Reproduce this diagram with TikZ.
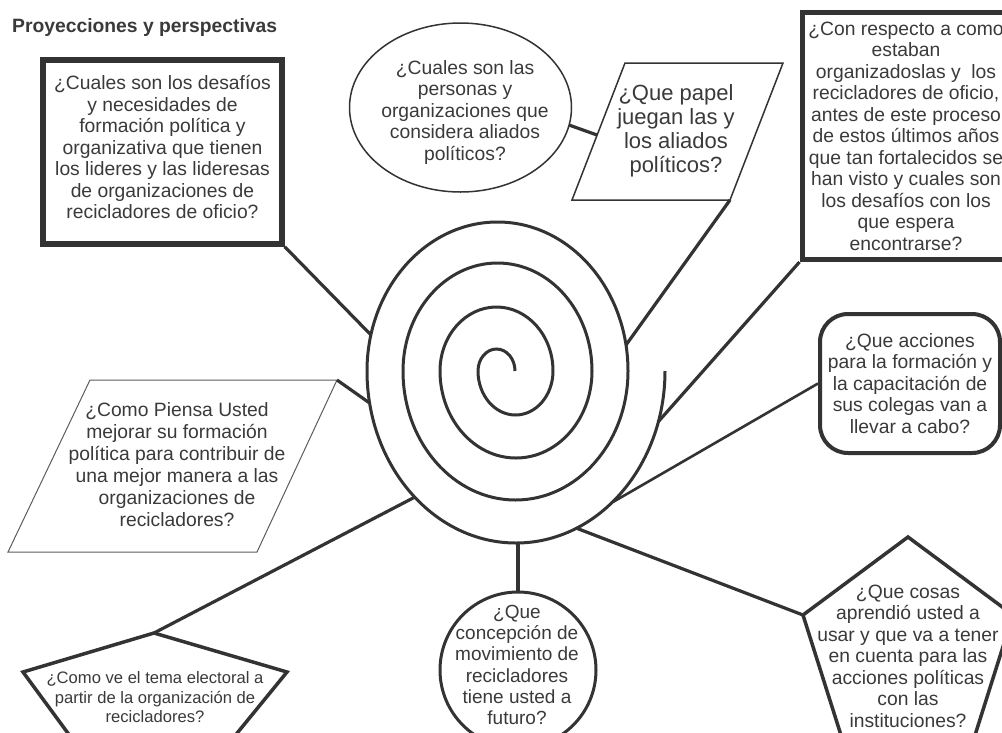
\documentclass[tikz,border=0pt]{standalone}
\usepackage{fontspec}
\setmainfont{Liberation Sans}
\definecolor{ink}{HTML}{333333}
\definecolor{txt}{HTML}{3A3A3A}
\tikzset{
  qtext/.style={inner sep=0pt, align=center, text=txt, font=\fontsize{19.3pt}{21.5pt}\selectfont},
  thickbox/.style={draw=ink, line width=#1},
  conn/.style={draw=ink, line width=3.2pt},
  spiralline/.style={draw=ink, line width=3pt},
  thinshape/.style={draw=ink, line width=1.5pt},
  pentshape/.style={draw=ink, line width=3.5pt, line join=miter},
}
\begin{document}
\begin{tikzpicture}[x=1pt,y=-1pt]
\useasboundingbox (0,0) rectangle (1002,732);
\fill[white] (0,0) rectangle (1002,732);
\clip (0,0) rectangle (1002,732);

% title
\node[anchor=west, inner sep=0pt, text=txt, font=\bfseries\fontsize{19.3pt}{22pt}\selectfont] (title) at (12,28) {Proyecciones y perspectivas};

% spiral
\draw[spiralline] (515,371)
  arc[start angle=0,end angle=180,x radius=18.5pt,y radius=22pt]
  arc[start angle=180,end angle=360,x radius=37.5pt,y radius=44pt]
  arc[start angle=0,end angle=180,x radius=56.5pt,y radius=64pt]
  arc[start angle=180,end angle=360,x radius=76pt,y radius=87pt]
  arc[start angle=0,end angle=180,x radius=94.5pt,y radius=108pt]
  arc[start angle=180,end angle=360,x radius=112.5pt,y radius=129pt]
  arc[start angle=0,end angle=180,x radius=130.5pt,y radius=149pt]
  arc[start angle=180,end angle=360,x radius=149pt,y radius=172pt];
\coordinate (s1) at (371,335);
\coordinate (s3) at (626,345);
\coordinate (s4) at (658,422);
\coordinate (s5) at (613,502);
\coordinate (s6) at (369.6,403);
\coordinate (s7) at (415,497);
\coordinate (s8) at (518,543);
\coordinate (s9) at (576,528);

% q1 box
\node[qtext, thickbox=5.5pt, minimum width=239pt, minimum height=184pt, text depth=10pt] (q1) at (162.5,152)
{¿Cuales son los desafíos\\y necesidades de\\formación política y\\organizativa que tienen\\los lideres y las lideresas\\de organizaciones de\\recicladores de oficio?};

% q2 ellipse
\draw[thinshape] (460.5,107.5) ellipse[x radius=111pt, y radius=84.5pt];
\node[qtext] (q2) at (465,112.5)
{¿Cuales son las\\personas y\\organizaciones que\\considera aliados\\políticos?};
\coordinate (q2r) at (569,125);

% q3 parallelogram
\draw[thinshape] (625,63) -- (783,63) -- (730,200) -- (572,200) -- cycle;
\node[qtext, font=\fontsize{22pt}{24pt}\selectfont] (q3) at (676,131)
{¿Que papel\\juegan las y\\los aliados\\políticos?};
\coordinate (q3l) at (597,135);
\coordinate (q3br) at (730,200);

% q4 box
\node[qtext, thickbox=5pt, minimum width=208pt, minimum height=247pt] (q4) at (906,136)
{¿Con respecto a como\\estaban\\organizadoslas y~ los\\recicladores de oficio,\\antes de este proceso\\de estos últimos años\\que tan fortalecidos se\\han visto y cuales son\\los desafíos con los\\que espera\\encontrarse?};

% q5 rounded box
\node[qtext, thickbox=4pt, rounded corners=28pt, minimum width=180pt, minimum height=139pt] (q5) at (910,383.5)
{¿Que acciones\\para la formación y\\la capacitación de\\sus colegas van a\\llevar a cabo?};

% q6 parallelogram
\draw[draw=ink!80, line width=1pt] (90,380) -- (337,380) -- (257,552) -- (8,552) -- cycle;
\node[qtext, font=\fontsize{19.3pt}{22pt}\selectfont] (q6) at (177,465)
{¿Como Piensa Usted\\mejorar su formación\\política para contribuir de\\una mejor manera a las\\organizaciones de\\recicladores?};
\coordinate (q6tr) at (337,380);

% q7 pentagon
\draw[pentshape] (154,633) -- (287,672) -- (207,770) -- (95,770) -- (23,672) -- cycle;
\node[qtext, font=\fontsize{16.6pt}{19.5pt}\selectfont] (q7) at (155,697.5)
{¿Como ve el tema electoral a\\partir de la organización de\\recicladores?};
\coordinate (q7top) at (154,633);

% q8 circle
\draw[draw=ink, line width=3pt] (518,670) circle[radius=78pt];
\node[qtext, font=\fontsize{19pt}{21.2pt}\selectfont] (q8) at (517,665)
{¿Que\\concepción de\\movimiento de\\recicladores\\tiene usted a\\futuro?};
\coordinate (q8top) at (518,592);

% q9 pentagon
\draw[pentshape] (908,537) -- (1013,615) -- (964,770) -- (852,770) -- (803,615) -- cycle;
\node[qtext] (q9) at (908,656)
{¿Que cosas\\aprendió usted a\\usar y que va a tener\\en cuenta para las\\acciones políticas\\con las\\instituciones?};
\coordinate (q9left) at (803,615);

% connectors
\draw[conn] (q1.south east) -- (s1);
\draw[conn] (q2r) -- (q3l);
\draw[conn] (q3br) -- (s3);
\draw[conn] (q4.south west) -- (s4);
\draw[conn, line width=2.6pt] (q5.west) -- (s5);
\draw[conn] (q6tr) -- (s6);
\draw[conn] (s7) -- (q7top);
\draw[conn] (s8) -- (q8top);
\draw[conn] (s9) -- (q9left);
\end{tikzpicture}
\end{document}
